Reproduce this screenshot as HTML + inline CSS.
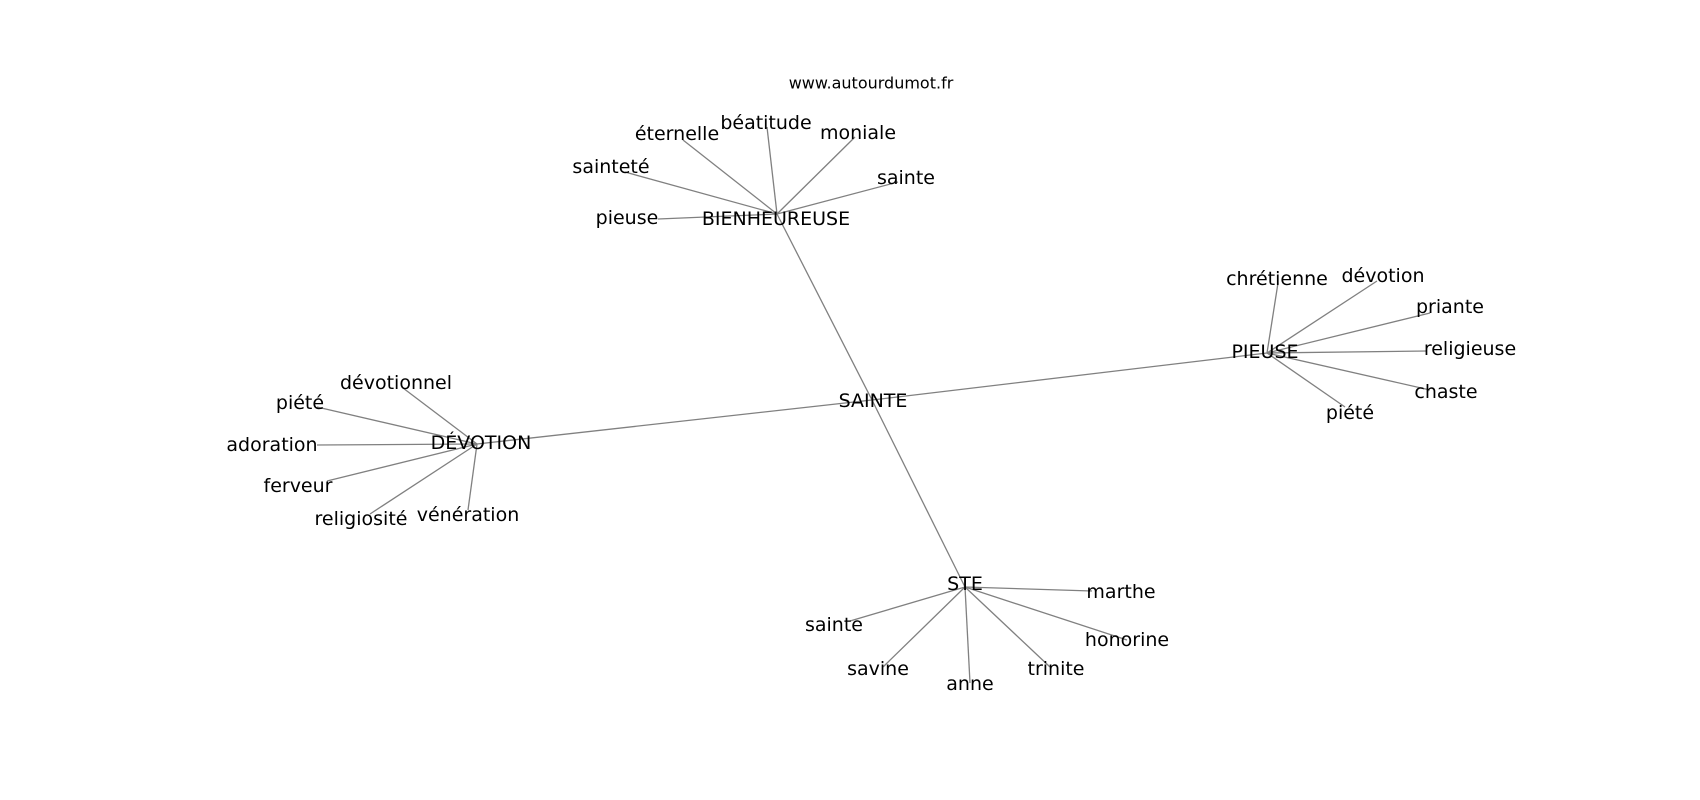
<!DOCTYPE html>
<html><head><meta charset="utf-8"><style>
html,body{margin:0;padding:0;background:#fff;}
svg{display:block;}
text{font-family:"DejaVu Sans","Liberation Sans",sans-serif;font-size:19px;fill:#000;text-anchor:middle;dominant-baseline:central;}
line{stroke:#808080;stroke-width:1.3;}
</style></head><body>
<svg width="1700" height="800" viewBox="0 0 1700 800">
<g>
<line x1="872" y1="400" x2="477" y2="444"/>
<line x1="872" y1="400" x2="1267" y2="353"/>
<line x1="872" y1="400" x2="777" y2="214"/>
<line x1="872" y1="400" x2="965" y2="587"/>
<line x1="477" y1="444" x2="403" y2="388"/>
<line x1="477" y1="444" x2="317" y2="407"/>
<line x1="477" y1="444" x2="317" y2="445"/>
<line x1="477" y1="444" x2="327" y2="481"/>
<line x1="477" y1="444" x2="370" y2="514"/>
<line x1="477" y1="444" x2="468" y2="510"/>
<line x1="777" y1="214" x2="683" y2="140"/>
<line x1="777" y1="214" x2="767" y2="127"/>
<line x1="777" y1="214" x2="855" y2="137"/>
<line x1="777" y1="214" x2="625" y2="172"/>
<line x1="777" y1="214" x2="898" y2="182"/>
<line x1="777" y1="214" x2="658" y2="219"/>
<line x1="1267" y1="353" x2="1278" y2="283"/>
<line x1="1267" y1="353" x2="1377" y2="281"/>
<line x1="1267" y1="353" x2="1430" y2="313"/>
<line x1="1267" y1="353" x2="1427" y2="351"/>
<line x1="1267" y1="353" x2="1430" y2="390"/>
<line x1="1267" y1="353" x2="1345" y2="407"/>
<line x1="965" y1="587" x2="1092" y2="591"/>
<line x1="965" y1="587" x2="850" y2="621"/>
<line x1="965" y1="587" x2="1127" y2="640"/>
<line x1="965" y1="587" x2="883" y2="667"/>
<line x1="965" y1="587" x2="970" y2="683"/>
<line x1="965" y1="587" x2="1050" y2="667"/>
</g>
<text x="871" y="83" style="font-size:16px">www.autourdumot.fr</text>
<text x="873" y="401">SAINTE</text>
<text x="481" y="443">DÉVOTION</text>
<text x="396" y="383">dévotionnel</text>
<text x="300" y="403">piété</text>
<text x="272" y="445">adoration</text>
<text x="298" y="486">ferveur</text>
<text x="361" y="519">religiosité</text>
<text x="468" y="515">vénération</text>
<text x="776" y="219">BIENHEUREUSE</text>
<text x="677" y="134">éternelle</text>
<text x="766" y="123">béatitude</text>
<text x="858" y="133">moniale</text>
<text x="611" y="167">sainteté</text>
<text x="906" y="178">sainte</text>
<text x="627" y="218">pieuse</text>
<text x="1265" y="352">PIEUSE</text>
<text x="1277" y="279">chrétienne</text>
<text x="1383" y="276">dévotion</text>
<text x="1450" y="307">priante</text>
<text x="1470" y="349">religieuse</text>
<text x="1446" y="392">chaste</text>
<text x="1350" y="413">piété</text>
<text x="965" y="584">STE</text>
<text x="1121" y="592">marthe</text>
<text x="834" y="625">sainte</text>
<text x="1127" y="640">honorine</text>
<text x="878" y="669">savine</text>
<text x="970" y="684">anne</text>
<text x="1056" y="669">trinite</text>
</svg>
</body></html>
